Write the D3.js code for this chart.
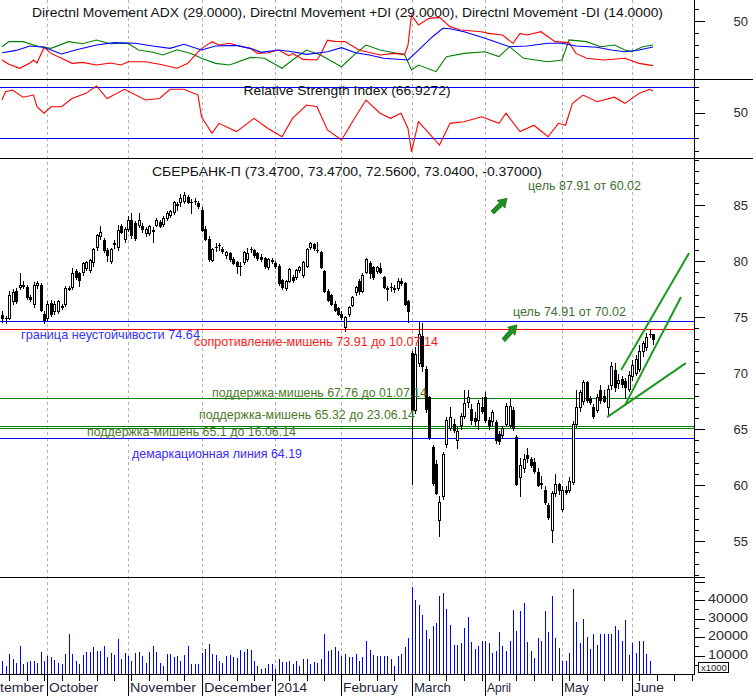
<!DOCTYPE html>
<html><head><meta charset="utf-8">
<script src="https://d3js.org/d3.v7.min.js"></script>
<style>body{margin:0;background:#fff}svg{display:block;font-family:"Liberation Sans",Arial,sans-serif}</style>
</head><body><svg id="c" width="753" height="696"></svg>
<script>
// ---------- DATA ----------
const open=[75.2,74.9,74.9,76.4,77.3,77.7,77.9,77.7,76.8,76.2,77.9,77.9,75.3,
74.9,76.3,75.5,75.5,76.0,76.2,77.6,77.7,79.1,78.9,79.0,79.4,79.2,79.9,81.3,82.2,81.9,81.0,80.0,81.5,81.3,83.1,82.0,
82.9,83.7,83.4,83.2,83.1,82.5,82.5,82.8,83.2,83.5,83.3,83.8,84.1,84.4,85.1,85.3,85.4,85.7,85.3,85.4,85.2,
84.6,82.9,82.0,80.1,81.3,81.4,81.1,80.5,80.7,80.2,79.9,79.6,79.9,80.2,81.1,81.0,80.7,80.4,80.3,79.5,80.1,
79.8,79.6,78.3,77.6,78.2,78.6,78.6,79.2,78.8,79.6,81.3,81.5,81.0,80.8,79.1,77.3,77.0,76.2,75.8,
75.3,74.1,75.3,76.1,77.2,78.2,77.3,79.0,79.8,79.5,79.1,79.4,78.6,77.6,77.7,77.5,77.6,78.2,78.0,76.4,
71.8,66.7,70.9,73.3,70.4,67.9,63.4,61.9,56.9,59.0,63.7,65.1,65.5,64.0,65.4,66.2,67.4,66.8,66.0,65.8,67.0,
67.9,65.8,65.7,65.6,64.6,64.5,65.5,65.4,66.7,64.3,60.7,61.5,62.7,62.3,62.1,61.2,60.2,59.6,58.2,56.0,59.3,60.1,
57.9,59.6,59.6,60.3,65.5,67.0,67.5,69.2,67.8,67.0,66.7,68.5,68.0,67.0,68.9,70.3,69.1,69.5,69.3,68.6,
69.7,70.0,70.4,72.0,72.3,73.5,73.47];
const high=[75.5,75.1,77.3,77.5,77.6,78.9,78.2,77.9,77.0,78.1,78.2,78.0,75.5,
76.4,76.5,76.4,76.5,76.2,77.8,77.8,79.4,79.3,79.0,79.9,80.0,80.2,81.2,82.4,83.1,82.1,81.2,81.2,81.9,83.2,83.3,83.0,
84.0,84.3,83.6,84.3,83.4,83.0,83.2,83.0,83.8,83.7,84.0,84.5,84.6,85.4,85.3,86.0,86.2,85.9,85.5,85.6,85.4,
84.8,83.1,82.2,81.2,81.6,81.6,81.3,80.9,80.8,80.4,80.0,79.9,80.9,81.2,81.3,81.1,80.8,80.6,80.4,80.3,80.3,
80.0,79.7,78.4,78.3,79.4,78.8,79.3,79.6,80.0,81.2,81.7,81.6,81.7,80.9,79.2,77.5,77.1,76.4,75.9,
75.5,75.1,76.0,76.9,77.8,78.4,78.9,80.3,80.0,79.6,79.6,79.8,78.7,77.8,78.0,77.9,78.5,78.5,78.1,76.5,
72.0,72.3,74.6,74.5,70.6,68.0,63.6,62.2,59.0,63.0,66.1,67.0,65.9,65.3,66.4,68.5,68.5,67.2,66.5,67.6,67.9,
68.3,66.1,66.7,65.8,64.8,65.3,67.3,67.7,67.0,64.5,62.4,62.8,63.3,62.5,62.4,61.5,60.8,59.9,58.4,59.5,61.0,60.2,
59.9,59.9,60.7,65.7,68.5,68.5,69.4,69.3,68.0,67.2,68.1,68.9,68.5,68.9,71.0,70.9,69.9,69.7,69.6,70.2,
71.2,71.6,72.5,72.9,73.6,73.9,73.47];
const low=[74.6,74.5,74.8,76.2,76.3,77.5,77.6,76.6,76.4,75.9,77.6,75.5,74.5,
74.7,75.1,75.3,75.4,75.7,76.0,77.4,77.5,78.4,77.8,78.8,79.2,79.0,79.6,81.0,82.0,80.8,80.0,79.8,81.2,81.0,82.5,81.7,
82.7,82.1,81.9,83.0,82.6,82.2,82.3,81.7,83.1,83.0,83.1,83.7,83.9,84.2,84.6,84.9,85.2,85.2,84.3,85.1,84.7,
82.7,81.9,80.0,80.0,80.9,81.0,80.7,80.3,80.0,79.7,78.9,78.8,79.7,80.0,80.8,80.4,80.1,80.0,79.4,79.3,79.8,
79.4,77.9,77.5,77.4,78.1,78.1,78.4,79.0,78.6,79.5,81.1,81.0,80.8,79.4,77.2,76.4,76.1,75.5,75.2,
74.8,73.8,75.1,76.0,77.0,77.1,77.2,78.9,78.5,78.4,78.9,78.9,77.6,76.5,77.3,77.2,77.4,77.9,76.1,74.6,
60.1,66.4,70.6,70.2,66.5,64.1,60.0,59.2,55.5,58.8,63.4,64.9,64.7,63.3,65.0,66.0,67.0,65.5,65.4,65.0,66.4,
65.6,65.0,65.4,63.8,63.7,64.2,65.3,65.2,64.9,60.0,59.0,61.2,62.1,61.6,61.1,59.9,59.7,58.3,57.0,54.9,59.0,59.2,
57.7,59.2,59.4,60.1,65.2,66.6,67.2,67.4,67.2,66.0,66.5,67.3,67.4,66.3,68.6,68.4,68.7,68.8,67.8,68.4,
69.4,69.8,70.2,71.5,72.1,73.2,72.56];
const close=[74.9,74.9,77.0,77.2,76.4,77.9,77.8,76.8,76.6,77.9,78.0,75.6,74.7,
76.2,75.3,76.2,76.4,75.9,77.6,77.5,78.9,78.6,78.3,79.8,79.9,80.1,81.1,82.3,82.6,81.0,80.5,81.1,81.6,82.8,82.6,82.9,
83.7,82.3,82.1,83.7,82.9,82.9,83.1,82.7,83.7,83.1,83.8,84.3,84.5,85.3,85.0,85.6,85.9,85.3,85.3,85.4,84.9,
82.8,82.0,80.2,81.1,81.3,81.4,80.9,80.8,80.2,79.8,79.6,79.6,80.8,80.7,81.1,80.5,80.3,80.2,79.6,80.2,80.0,
79.6,78.0,77.7,78.2,79.3,78.3,79.2,79.5,79.9,81.1,81.6,81.2,81.0,79.5,77.3,76.5,76.2,75.6,75.3,
75.0,75.0,75.9,76.8,77.7,77.3,78.8,80.2,78.9,78.6,79.5,79.0,77.7,77.5,77.7,77.6,78.2,78.0,76.2,75.5,
66.7,71.7,73.5,70.6,66.8,64.3,60.2,59.3,58.5,62.8,65.8,66.1,64.9,64.8,66.2,67.3,67.9,65.8,65.7,67.3,66.6,
65.8,65.3,66.5,64.0,63.9,65.1,67.1,67.1,65.1,60.1,61.8,62.3,62.4,61.8,61.3,60.0,60.1,58.5,57.2,59.3,60.1,59.6,
59.6,59.4,60.4,65.5,67.0,68.3,69.2,67.6,67.4,66.2,67.9,67.6,67.5,68.6,70.6,68.8,69.4,69.0,68.8,69.8,
70.7,71.3,72.0,72.7,73.2,73.5,73.04];
const volume=[7300,4600,10600,8100,5900,15400,5400,6600,7000,7000,5800,11900,7300,
9500,9000,7700,6000,5600,10600,21400,10600,7000,5200,10300,11700,11700,14600,12400,12400,15400,9000,11400,10200,19000,7900,11400,
9500,7300,11400,11700,9500,6000,11900,14900,12100,6000,4300,10600,10600,9000,9500,7000,10200,14900,5600,5600,5600,
11400,13500,16200,10900,10200,7300,6000,9500,10200,9000,8400,12800,11900,13500,13200,7300,4600,2500,3200,5200,5600,
2500,7900,6300,6300,7300,5600,7000,4600,7900,7900,5400,6300,5800,7900,21400,12400,12800,14600,12400,
9500,10600,9000,9000,10600,7300,9000,17800,12800,10200,9500,9500,9500,9500,7900,4600,9500,10600,14600,19400,
47300,40300,37600,32200,24100,18700,26100,27800,42000,44100,35400,26700,15700,15700,16700,25100,31100,17300,13500,15200,17800,
17800,16700,11400,12400,22900,14900,12400,17800,34800,23500,34200,38600,17300,12400,8600,19700,18000,34200,22900,42400,19400,14100,
7000,7000,11400,46200,28400,16700,30000,20300,13500,21800,15700,21400,21800,21400,21800,26100,24100,18000,29000,10300,
16700,11400,18000,17800,10600,7300,null];
// indicator readings: [bar index, value]
const adx=[[0,23.6],[4,25.5],[8,29.2],[12,28.1],[17,22.5],[21,25.8],[27,30],[32,32],[38,31.4],[43,29.2],[48,27.2],[52,30.6],[57,25.8],[61,29.2],[67,29.7],[71,27.2],[74,23.9],[79,25.8],[83,24.4],[87,22.2],[93,24.4],[97,27.8],[101,23.6],[105,21.7],[109,18.9],[113,18.1],[116,17.5],[119,25.8],[123,36.9],[126,43.9],[128,43.6],[132,41.1],[138,35.6],[145,28.6],[150,29.2],[156,31.4],[160,31.4],[164,29.2],[170,28.1],[174,25.8],[178,24.4],[182,25.8],[186,28.3]];
const diMinus=[[0,17.5],[2,14],[5,10.6],[8,15],[9,17.5],[10,15],[12,28],[14,23],[17,19],[20,14.7],[23,15.5],[27,13.3],[31,15],[34,13.3],[36,16],[41,16],[45,14],[50,10.6],[53,14.5],[56,24],[57,27],[60,32.8],[62,30],[65,31.5],[68,29],[71,27],[73,23],[76,23.5],[79,25.8],[82,21],[83,23],[86,18],[90,17.5],[91,22],[93,34],[95,33],[98,32.8],[102,25.8],[108,21.7],[112,23],[115,22],[116,30],[117,55],[119,46.7],[122,52.2],[125,53],[128,45.3],[131,42.5],[137,41.1],[139,39.7],[143,38.3],[146,31.4],[148,39.7],[150,38.3],[154,41.1],[158,32.8],[162,32],[164,23],[167,18.9],[172,17.5],[178,18.9],[182,14.7],[186,12.8]];
const diPlus=[[0,28.6],[2,32.8],[6,32.8],[10,29.2],[14,27.2],[19,32.8],[23,31],[27,34.2],[31,31],[36,31.5],[39,25.8],[43,24],[46,21.7],[50,26],[54,23],[57,18.9],[61,14.7],[65,13.3],[71,19.7],[75,19],[80,10.6],[83,17.5],[87,25.8],[91,21.7],[97,11.9],[101,22.8],[104,30],[108,25.8],[112,23.6],[115,22.2],[117,9.2],[119,13.3],[124,7.8],[127,20.3],[132,23],[138,24.4],[142,20.3],[145,28.6],[149,18.9],[156,16.1],[160,17.5],[162,34.2],[167,32.8],[171,28.6],[175,30],[178,25.8],[180,24.4],[183,28.6],[186,30]];
const rsi=[[0,59.8],[1,66.3],[3,67.6],[6,62],[9,63.7],[10,54.5],[12,49.4],[14,54.5],[17,54.5],[20,61],[24,65],[27,70.8],[30,61],[35,68.2],[41,59.8],[45,61],[48,68.2],[52,68.2],[56,63.7],[57,46.7],[60,33.7],[62,41.5],[67,35],[72,45.4],[76,37.5],[80,31],[83,45.4],[87,55.9],[90,54.5],[93,36.3],[97,28.4],[101,46.7],[104,59.8],[108,49.4],[111,45.4],[114,49.4],[116,37.5],[117,19.3],[119,42.8],[122,33.7],[125,24.5],[128,41.5],[132,42.8],[137,46.7],[142,41.5],[144,49.4],[148,35],[152,40],[156,31],[159,41.5],[161,40],[163,57.2],[166,63.7],[170,58.5],[175,62],[178,57.2],[182,65],[185,68.2],[186,66.9]];
const months=["September","October","November","December","2014","February","March","April","May","June"];
const monthStart=[-8,13,36,57,78,97,117,138,160,180];
const priceTicks=[55,60,65,70,75,80,85];
const volTicks=[10000,20000,30000,40000];
const levelValues=[74.64,73.91,67.76,65.32,65.1,64.19];
const trendFromIdx=[172.9,178,176.9], trendFromPrice=[66.07,67.14,70.27];
const trendToIdx=[195.4,194,196.3], trendToPrice=[70.89,76.79,80.71];
const arrowTailIdx=[139.7,142.9], arrowTailPrice=[84.2,72.8];
const arrowTipIdx=[144.3,147.1], arrowTipPrice=[85.6,74.3];
const noteText=["цель 87.91 от  60.02","цель 74.91 от  70.02","граница неустойчивости 74.64","сопротивление-мишень 73.91 до 10.07.14","поддержка-мишень 67.76 до 01.07.14","поддержка-мишень 65.32 до 23.06.14","поддержка-мишень 65.1 до 16.06.14","демаркационная линия 64.19"];
const noteIdx=[150.3,146.0,5.43,54.86,60.0,56.29,24.29,37.14];
const notePrice=[86.34,75.09,73.08,72.41,67.86,65.89,64.38,62.41];

// ---------- STYLE / LAYOUT ----------
const AX=694;
const levelColor=["#0000ff","#ff0000","#008000","#008000","#008000","#0000ff"];
const noteColor=["#3f6f35","#3f6f35","#3535ff","#ff1a1a","#4e7a28","#4e7a28","#4e7a28","#3a2cff"];
const noteWidth=[113,113,179,244,215,216,209,170];
const monthWidth=[69,49,66,67,30,55,37,24,25,30];

const svg=d3.select("#c");
const x=d3.scaleLinear().domain([0,186]).range([2,653]);
const px=i=>Math.round(x(i));
const yP=d3.scaleLinear().domain([51.8,89.2]).range([577,158]);
const yV=d3.scaleLinear().domain([0,52000]).range([674,578]);
const yA=d3.scaleLinear().domain([0,67.5]).range([81,0]);
const yR=d3.scaleLinear().domain([14.3,75.5]).range([158,80]);
const ry=v=>Math.round(v)+0.5;

const defs=svg.append("defs");
function clip(id,y0,y1){defs.append("clipPath").attr("id",id).append("rect").attr("x",0).attr("y",y0).attr("width",AX).attr("height",y1-y0);}
clip("cA",0,79);clip("cR",80,158);clip("cP",158,577);clip("cV",577,674);

// grid
svg.append("g").selectAll("line").data(monthStart.slice(1)).join("line")
 .attr("x1",d=>px(d)+0.5).attr("x2",d=>px(d)+0.5).attr("y1",0).attr("y2",674)
 .attr("stroke","#b4b4b4").attr("stroke-dasharray","3,3");

// ADX panel
const gA=svg.append("g").attr("clip-path","url(#cA)");
const lineA=d3.line().x(d=>x(d[0])).y(d=>yA(d[1]));
[[diPlus,"#008000"],[diMinus,"#ff0000"],[adx,"#0000ff"]].forEach(([s,c])=>{
 gA.append("path").attr("d",lineA(s)).attr("fill","none").attr("stroke",c).attr("stroke-width",1.1);
});
svg.append("text").attr("x",32).attr("y",16.5).attr("font-size",12.5).attr("fill","#111")
 .attr("textLength",631).attr("lengthAdjust","spacingAndGlyphs")
 .text("Directnl Movement ADX (29.0000), Directnl Movement +DI (29.0000), Directnl Movement -DI (14.0000)");

// RSI panel
const gR=svg.append("g").attr("clip-path","url(#cR)");
[70,30].forEach(v=>gR.append("line").attr("x1",0).attr("x2",AX).attr("y1",ry(yR(v))).attr("y2",ry(yR(v))).attr("stroke","#0000ff"));
gR.append("path").attr("d",d3.line().x(d=>x(d[0])).y(d=>yR(d[1]))(rsi)).attr("fill","none").attr("stroke","#ff0000").attr("stroke-width",1.1);
svg.append("text").attr("x",243.5).attr("y",95).attr("font-size",12.5).attr("fill","#111")
 .attr("textLength",207).attr("lengthAdjust","spacingAndGlyphs").text("Relative Strength Index (66.9272)");

// Price panel
const gP=svg.append("g").attr("clip-path","url(#cP)");
levelValues.forEach((v,k)=>{
 gP.append("line").attr("x1",0).attr("x2",AX).attr("y1",ry(yP(v))).attr("y2",ry(yP(v))).attr("stroke",levelColor[k]);
});
const gC=gP.append("g");
close.forEach((c,i)=>{
 const o=open[i],h=high[i],l=low[i],cx=px(i);
 gC.append("line").attr("x1",cx+0.5).attr("x2",cx+0.5).attr("y1",Math.round(yP(h))).attr("y2",Math.round(yP(l))+1).attr("stroke","#000");
 const t=Math.round(yP(Math.max(o,c))),b=Math.round(yP(Math.min(o,c)));
 if(b-t<1){
  gC.append("line").attr("x1",cx-1).attr("x2",cx+2).attr("y1",t+0.5).attr("y2",t+0.5).attr("stroke","#000");
 } else {
  gC.append("rect").attr("x",cx-0.5).attr("y",t+0.5).attr("width",2).attr("height",b-t)
   .attr("fill",c>=o?"#fff":"#000").attr("stroke","#000");
 }
});
trendFromIdx.forEach((s,k)=>{
 gP.append("line").attr("x1",x(s)).attr("y1",yP(trendFromPrice[k])).attr("x2",x(trendToIdx[k])).attr("y2",yP(trendToPrice[k]))
  .attr("stroke","#1d9a1d").attr("stroke-width",2);
});
arrowTailIdx.forEach((s,k)=>{
 const x0=x(s),y0=yP(arrowTailPrice[k]),x1=x(arrowTipIdx[k]),y1=yP(arrowTipPrice[k]);
 const dx=(x1-x0)/16,dy=(y0-y1)/16;
 const pts=[[0,-3],[8.4,-11.6],[6.1,-13.9],[16,-16],[13.9,-6.1],[11.6,-8.4],[3,0]].map(p=>[x0+p[0]*dx,y0+p[1]*dy]);
 gP.append("path").attr("d","M"+pts.join("L")+"Z").attr("fill","#1f8f1f").attr("stroke","#0d6a0d").attr("stroke-width",0.7);
});
noteText.forEach((t,k)=>{
 gP.append("text").attr("x",x(noteIdx[k])).attr("y",yP(notePrice[k])).attr("font-size",13).attr("fill",noteColor[k])
  .attr("textLength",noteWidth[k]).attr("lengthAdjust","spacingAndGlyphs").text(t);
});
svg.append("text").attr("x",152).attr("y",175.5).attr("font-size",13.5).attr("fill","#111")
 .attr("textLength",390).attr("lengthAdjust","spacingAndGlyphs").text("СБЕРБАНК-П (73.4700, 73.4700, 72.5600, 73.0400, -0.37000)");

// Volume
const gV=svg.append("g").attr("clip-path","url(#cV)");
volume.forEach((v,i)=>{
 if(v==null)return;
 gV.append("line").attr("x1",px(i)+0.5).attr("x2",px(i)+0.5).attr("y1",674).attr("y2",Math.round(yV(v))).attr("stroke","#0000ff");
});

// frame lines
const frame=svg.append("g").attr("stroke","#000");
frame.append("line").attr("x1",0).attr("x2",753).attr("y1",79.5).attr("y2",79.5);
frame.append("line").attr("x1",0).attr("x2",753).attr("y1",158.5).attr("y2",158.5);
frame.append("line").attr("x1",0).attr("x2",705).attr("y1",577.5).attr("y2",577.5);
frame.append("line").attr("x1",0).attr("x2",AX).attr("y1",674.5).attr("y2",674.5);
frame.append("line").attr("x1",AX+0.5).attr("x2",AX+0.5).attr("y1",0).attr("y2",675);

// right axes
const ax=svg.append("g");
function tick(y,len){ax.append("line").attr("x1",AX).attr("x2",AX+len).attr("y1",ry(y)).attr("y2",ry(y)).attr("stroke","#000");}
function lab(y,t,w,fs){const e=ax.append("text").attr("x",748).attr("y",y).attr("dy","0.36em").attr("text-anchor","end").attr("font-size",fs||13).attr("fill","#2a2a2a").text(t);if(w)e.attr("textLength",w).attr("lengthAdjust","spacingAndGlyphs");}
[10,20,30,40,60].forEach(v=>tick(yA(v),5));tick(yA(50),11);lab(yA(50),"50");
[20,30,40,60,70].forEach(v=>tick(yR(v),5));tick(yR(50),11);lab(yR(50),"50");
d3.range(52,90).forEach(v=>tick(yP(v),priceTicks.includes(v)?11:5));
priceTicks.forEach(v=>lab(yP(v),String(v)));
d3.range(5000,52000,5000).forEach(v=>tick(yV(v),v%10000===0?11:5));
volTicks.forEach(v=>lab(yV(v)-1,String(v),40,12));
ax.append("rect").attr("x",698.5).attr("y",662.5).attr("width",30).attr("height",10).attr("fill","#fff").attr("stroke","#000");
ax.append("text").attr("x",701).attr("y",670.5).attr("font-size",9.5).attr("fill","#222").text("x1000");

// x axis
const xa=svg.append("g");
d3.range(2,198,5).filter(i=>!monthStart.includes(i)).forEach(i=>{
 xa.append("line").attr("x1",px(i)+0.5).attr("x2",px(i)+0.5).attr("y1",675).attr("y2",681).attr("stroke","#000");
});
monthStart.forEach((m,k)=>{
 const sx=px(m)+0.5;
 xa.append("line").attr("x1",sx).attr("x2",sx).attr("y1",675).attr("y2",696).attr("stroke","#000");
 xa.append("text").attr("x",k===0?44-monthWidth[0]:sx+1.5).attr("y",692).attr("font-size",13.5).attr("fill","#1e1e3a")
  .attr("textLength",monthWidth[k]).attr("lengthAdjust","spacingAndGlyphs").text(months[k]);
});
</script></body></html>
